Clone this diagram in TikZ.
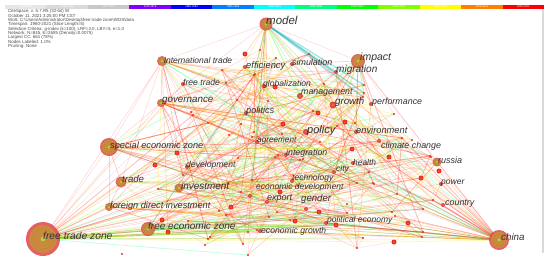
\documentclass[tikz,border=0pt]{standalone}
\usepackage{fontspec}
\setmainfont{Liberation Sans}
\usetikzlibrary{calc}
\definecolor{ringred}{HTML}{E2434B}
\definecolor{ringtan}{HTML}{C98A3E}
\definecolor{ringcore}{HTML}{B8D43A}
\definecolor{dotred}{HTML}{E8302A}
\definecolor{labgray}{HTML}{333333}
\definecolor{gA}{HTML}{E6E6E6}
\definecolor{gB}{HTML}{DADADA}
\definecolor{gC}{HTML}{C8C8C8}
\definecolor{cPurple}{HTML}{8000FF}
\definecolor{cBlue}{HTML}{0000FF}
\definecolor{cAzure}{HTML}{0080FF}
\definecolor{cCyan}{HTML}{00FFFF}
\definecolor{cSpring}{HTML}{00FF80}
\definecolor{cGreen}{HTML}{00FF00}
\definecolor{cLime}{HTML}{80FF00}
\definecolor{cYellow}{HTML}{FFFF00}
\definecolor{cOrange}{HTML}{FF8000}
\definecolor{cRed}{HTML}{FF0000}
\tikzset{
  ec1/.style={red,opacity=.17,line width=.5pt},
  ec2/.style={red,opacity=.17,line width=.5pt},
  ec3/.style={red!90!white,opacity=.24,line width=.6pt},
  ec4/.style={red,opacity=.27,line width=.8pt},
  ec5/.style={red!85!orange,opacity=.3,line width=.7pt},
  ec6/.style={orange!80!red,opacity=.28,line width=.6pt},
  ec7/.style={orange,opacity=.28,line width=.7pt},
  ec8/.style={orange!70!yellow,opacity=.25,line width=.6pt},
  ec9/.style={red,opacity=.15,line width=.4pt},
  ec10/.style={yellow!90!orange,opacity=.3,line width=.6pt},
  ec11/.style={green!60!yellow,opacity=.27,line width=.7pt},
  ec12/.style={green!50!cyan,opacity=.24,line width=.8pt},
  cyanband/.style={cyan!70!green,opacity=.35,line width=1.3pt},
  greenband/.style={green!65!yellow,opacity=.35,line width=1.1pt},
  lab/.style={anchor=west,inner sep=0pt,text=labgray},
  barlab/.style={inner sep=0pt,text=white,font=\fontsize{2.6}{2.6}\selectfont},
}
\newcommand{\treering}[2]{%
  \fill[ringred,opacity=.85] (#1) circle[radius=#2pt];
  \fill[ringtan] (#1) circle[radius=0.82*#2pt];
  \draw[ringtan!75!black,opacity=.25,line width=.3pt] (#1) circle[radius=0.6*#2pt];
  \fill[ringcore] (#1) circle[radius=0.1*#2pt+0.6pt];
}
\newcommand{\smallring}[2]{%
  \fill[ringred] (#1) circle[radius=#2pt];
  \fill[ringtan!80!red] (#1) circle[radius=0.55*#2pt];
}
\newcommand{\klabel}[5]{\node[lab,font=\fontsize{#4}{#4}\selectfont\itshape] (#1) at (#2,#3) {#5};}
\def\dotlist{226/83/1.2,191/112/1.2,193/115/1.2,208/123/1.2,241/124/1.2,229/135/1.2,254/132/1.2,268/101/1.2,252/137/1.2,238/158/1.2,
222/70/1.2,254/75/1.2,275/87/2.5,313/111/1.2,318/113/2.5,283/124/2.5,282/134/1.2,320/142/1.2,275/157/1.2,303/159/1.2,
324/84/1.2,364/85/1.2,364/93/1.2,363/97/1.2,345/122/2.5,355/123/1.2,337/126/1.2,394/114/1.2,352/149/2.5,402/138/1.2,
412/140/1.2,389/157/2.5,430/156/1.2,278/155/1.2,228/183/1.2,252/180/1.2,241/192/1.2,280/192/2.5,298/186/1.2,231/207/2.5,
219/211/1.2,269/217/1.2,277/212/1.2,290/220/1.2,295/221/2.5,319/212/2.5,336/225/2.5,347/213/1.2,357/183/1.2,373/183/1.2,
248/232/1.2,210/237/1.2,431/157/1.2,421/178/2.5,439/171/2.5,369/172/1.2,374/184/1.2,397/194/1.2,433/200/1.2,423/209/1.2,
408/223/2.5,392/212/1.2,395/216/1.2,422/237/1.2,423/232/1.2,394/242/2.5,357/248/1.2,363/238/1.2,347/204/1.2,155/165/2.5,
183/175/1.2,158/189/1.2,226/215/1.2,162/220/2.5,168/232/2.5,188/221/1.2,208/239/1.2,205/245/1.2,243/244/1.2,248/255/1.2,
257/230/1.2,245/54/2.5,177/153/2.5,260/50/1.2,276/58/1.2,309/54/1.2,255/74/1.2,300/160/1.2,237/100/1.2}
\begin{document}
\begin{tikzpicture}[x=1pt,y=-1pt]
\useasboundingbox (0,0) rectangle (550,266);
\fill[white] (0,0) rectangle (550,266);
% ---------- time-slice bar ----------
\foreach \col/\lab [count=\i from 0] in {gA/1960-1964,gB/1965-1969,gC/1970-1974,cPurple/1975-1979,cBlue/1980-1984,cAzure/1985-1989,cCyan/1990-1994,cSpring/1995-1999,cGreen/2000-2004,cLime/2005-2009,cYellow/2010-2014,cOrange/2015-2019,cRed/2020-2021}{
  \fill[\col] ({5+\i*41.46},5) rectangle ({5+(\i+1)*41.46},9);
  \node[barlab] (bar\i) at ({5+(\i+0.5)*41.46},7) {\lab};
}
\coordinate (bordtop) at (543,9);
\coordinate (bordbot) at (543,253);
\draw[gray!30,line width=1.3pt] (bordtop) -- (bordbot);
% ---------- header ----------
\node[anchor=north west,inner sep=0pt,align=left,text=black!70,font=\fontsize{4.4}{4.38}\selectfont] (hdr) at (8,9.3) {CiteSpace, v. 5.7.R5 (32-bit) W\\
October 11, 2021 3:25:00 PM CST\\
WoS: C:\textbackslash Users\textbackslash Administrator\textbackslash Desktop\textbackslash free trade zone\textbackslash WOS\textbackslash data\\
Timespan: 1960-2021 (Slice Length=5)\\
Selection Criteria: g-index (k=100), LRF=3.0, LBY=5, e=1.0\\
Network: N=845, E=2685 (Density=0.0075)\\
Largest CC: 661 (78\%)\\
Nodes Labeled: 1.0\%\\
Pruning: None};
% ---------- node positions ----------
\coordinate[alias=ftz] (n1) at (43,239);
\coordinate[alias=china] (n2) at (499,240);
\coordinate[alias=model] (n3) at (266,24);
\coordinate[alias=impact] (n4) at (358,61);
\coordinate[alias=intl] (n5) at (162,61);
\coordinate[alias=gov] (n6) at (161,103);
\coordinate[alias=sez] (n7) at (109,147);
\coordinate[alias=trade] (n8) at (121,182);
\coordinate[alias=invest] (n9) at (179,188);
\coordinate[alias=fdi] (n10) at (109,207);
\coordinate[alias=fez] (n11) at (148,229);
\coordinate[alias=russia] (n12) at (437,162);
\coordinate[alias=eff] (n13) at (245,67);
\coordinate[alias=sim] (n14) at (292,64);
\coordinate[alias=glob] (n15) at (264,86);
\coordinate[alias=manage] (n16) at (300,96);
\coordinate[alias=growth] (n17) at (333,105);
\coordinate[alias=perf] (n18) at (371,104);
\coordinate[alias=migr] (n19) at (336,72);
\coordinate[alias=politics] (n20) at (246,113);
\coordinate[alias=policy] (n21) at (306,132);
\coordinate[alias=env] (n22) at (356,132);
\coordinate[alias=agree] (n23) at (257,142);
\coordinate[alias=climate] (n24) at (379,141);
\coordinate[alias=integ] (n25) at (286,155);
\coordinate[alias=health] (n26) at (353,163);
\coordinate[alias=dev] (n27) at (187,167);
\coordinate[alias=city] (n28) at (334,172);
\coordinate[alias=tech] (n29) at (292,181);
\coordinate[alias=ecodev] (n30) at (250,196);
\coordinate[alias=power] (n31) at (441,184);
\coordinate[alias=export] (n32) at (267,202);
\coordinate[alias=gender] (n33) at (306,209);
\coordinate[alias=country] (n34) at (443,205);
\coordinate[alias=poleco] (n35) at (326,223);
\coordinate[alias=ecogrowth] (n36) at (260,231);
\coordinate[alias=freetrade] (n37) at (183,84);
\foreach \x/\y/\s [count=\i from 38] in \dotlist {\coordinate (n\i) at (\x,\y);}
\coordinate (iso) at (122,254);
% ---------- edges ----------
\pgfmathsetseed{4711}
\foreach \k in {1,...,230}{
  \pgfmathrandominteger{\a}{13}{126}
  \pgfmathrandominteger{\b}{13}{126}
  \pgfmathrandominteger{\c}{1}{12}
  \draw[ec\c] (n\a) -- (n\b);
}
\foreach \h/\m in {1/40,2/42,3/20,4/24,5/24,6/20,7/24,8/13,9/14,10/13,11/20,12/10}{
  \foreach \k in {1,...,\m}{
    \pgfmathrandominteger{\b}{13}{126}
    \pgfmathrandominteger{\c}{1}{12}
    \draw[ec\c] (n\h) -- (n\b);
  }
}
\foreach \a/\b/\s in {ftz/fdi/ec3,ftz/trade/ec1,ftz/sez/ec1,ftz/fez/greenband,ftz/invest/ec3,ftz/china/ec10,ftz/intl/ec1,ftz/gov/ec1,
  intl/gov/ec3,intl/sez/ec1,intl/trade/ec1,sez/trade/ec3,sez/fdi/ec1,trade/fdi/ec3,model/intl/ec1,model/impact/ec1,
  impact/russia/ec1,impact/china/ec1,china/russia/ec3,china/fez/ec1,model/gov/ec1,gov/sez/ec1,
  ftz/n88/greenband,ftz/n118/greenband,fez/n84/greenband,fez/n98/ec12,ftz/n105/ec11,china/n103/ec10,
  model/n59/cyanband,model/n60/cyanband,model/n61/cyanband,model/migr/cyanband,model/growth/greenband,model/manage/greenband,
  model/n52/ec12,eff/growth/ec11,glob/policy/ec11,eff/policy/ec11,gov/policy/ec7,gov/agree/ec6,gov/integ/ec5,
  china/power/ec3,china/country/ec5,china/poleco/ec4,china/ecogrowth/ec7,china/n98/ec6,fez/poleco/ec11,invest/gender/ec11,
  fdi/n75/ec11,fez/ecogrowth/ec11,ftz/n103/ec10}{
  \draw[\s] (\a) -- (\b);
}
% ---------- node circles ----------
\foreach \x/\y/\s [count=\i from 38] in \dotlist {
  \fill[dotred] (n\i) circle[radius=\s pt];
  \fill[orange!70!red] (n\i) circle[radius=0.4*\s pt];
}
\fill[dotred] (iso) circle[radius=1.1pt];
\foreach \n in {eff,sim,glob,migr,politics,env,agree,climate,integ,health,dev,city,tech,ecodev,power,export,gender,country,poleco,ecogrowth,freetrade,perf}{
  \smallring{\n}{2}
}
\smallring{growth}{3.5}
\smallring{policy}{3}
\smallring{manage}{3}
\treering{ftz}{17}
\treering{china}{10}
\treering{sez}{9}
\treering{fez}{7}
\treering{impact}{7}
\treering{model}{6.5}
\treering{trade}{5.5}
\treering{intl}{5}
\treering{invest}{4.5}
\treering{russia}{4.5}
\treering{gov}{4}
\treering{fdi}{4}
% ---------- labels ----------
\klabel{lmodel}{266}{20}{11.5}{model}
\klabel{limpact}{360}{58}{10.5}{impact}
\klabel{lmigr}{336}{70}{10}{migration}
\klabel{lsim}{292}{62}{8.9}{simulation}
\klabel{leff}{246}{66}{9.4}{efficiency}
\klabel{lintl}{164}{60}{8.5}{international trade}
\klabel{lfreetrade}{183}{82}{8.6}{free trade}
\klabel{lglob}{263}{84}{8.6}{globalization}
\klabel{lmanage}{301}{93}{8.8}{management}
\klabel{lgov}{162}{101}{9.8}{governance}
\klabel{lgrowth}{335}{102}{9.7}{growth}
\klabel{lperf}{372}{102}{8.9}{performance}
\klabel{lpolitics}{246}{111}{9.2}{politics}
\klabel{lpolicy}{307}{131}{11}{policy}
\klabel{lenv}{356}{130}{9.3}{environment}
\klabel{lsez}{110}{146}{9.2}{special economic zone}
\klabel{lagree}{257}{141}{8.2}{agreement}
\klabel{lclimate}{381}{146}{8.9}{climate change}
\klabel{linteg}{286}{153}{8.8}{integration}
\klabel{lhealth}{353}{162}{8.4}{health}
\klabel{lrussia}{438}{160}{9}{russia}
\klabel{ldev}{186}{165}{8.6}{development}
\klabel{lcity}{336}{169}{8.5}{city}
\klabel{ltrade}{122}{179}{9.6}{trade}
\klabel{ltech}{292}{178}{8.5}{technology}
\klabel{linvest}{181}{186}{9.9}{investment}
\klabel{lecodev}{256}{187.2}{8.5}{economic development}
\klabel{lpower}{441}{183}{8.5}{power}
\klabel{lexport}{267}{199}{9}{export}
\klabel{lgender}{301}{199}{9.6}{gender}
\klabel{lfdi}{110}{206}{9.2}{foreign direct investment}
\klabel{lcountry}{445}{204}{8.9}{country}
\klabel{lpoleco}{327}{220}{8.5}{political economy}
\klabel{lfez}{148}{226}{10}{free economic zone}
\klabel{lecogrowth}{261}{231}{8.6}{economic growth}
\klabel{lftz}{43}{236}{10.3}{free trade zone}
\klabel{lchina}{501}{237}{9.8}{china}
\end{tikzpicture}
\end{document}
